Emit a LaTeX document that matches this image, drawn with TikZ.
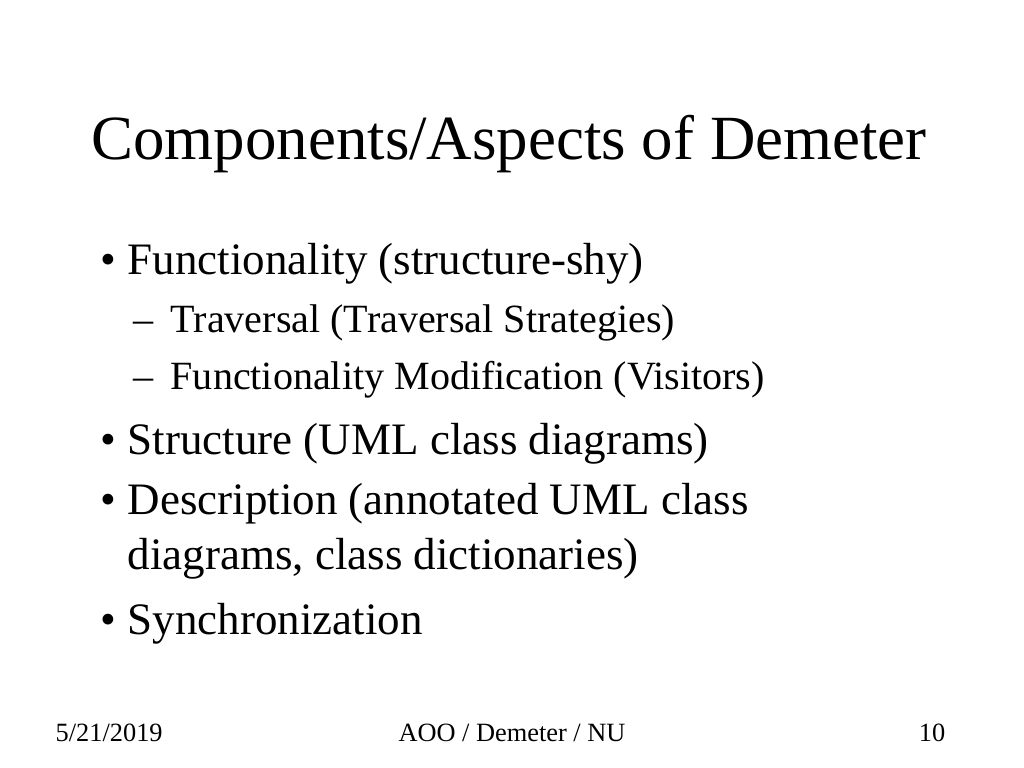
\documentclass[tikz,border=0pt]{standalone}
\usepackage{fontspec}
\setmainfont{Liberation Serif}
\usetikzlibrary{positioning}
\tikzset{
  bullettext/.style={anchor=base west, inner sep=0pt, font=\fontsize{12.8pt}{14pt}\selectfont},
  subtext/.style={anchor=base west, inner sep=0pt, font=\fontsize{11.4pt}{13pt}\selectfont},
  foottext/.style={inner sep=0pt, font=\fontsize{7.5pt}{8pt}\selectfont}
}
\begin{document}
\begin{tikzpicture}
\useasboundingbox (0,0) rectangle (10.24,7.68);
\node [anchor=base, inner sep=0pt, font=\fontsize{17.9pt}{20pt}\selectfont] (title) at (5.09,6.08) {Components/Aspects of Demeter};
% bullets
\node [bullettext] (d1) at (1.00,4.93) {\textbullet};
\node [bullettext] (b1) at (1.27,4.93) {Functionality (structure-shy)};
\node [subtext] (e1) at (1.33,4.35) {--};
\node [subtext] (s1) at (1.70,4.35) {Traversal (Traversal Strategies)};
\node [subtext] (e2) at (1.33,3.78) {--};
\node [subtext] (s2) at (1.70,3.78) {Functionality Modification (Visitors)};
\node [bullettext] (d2) at (1.00,3.13) {\textbullet};
\node [bullettext] (b2) at (1.27,3.13) {Structure (UML class diagrams)};
\node [bullettext] (d3) at (1.00,2.53) {\textbullet};
\node [bullettext] (b3) at (1.27,2.53) {Description (annotated UML class};
\node [bullettext] (b3b) at (1.27,1.98) {diagrams, class dictionaries)};
\node [bullettext] (d4) at (1.00,1.33) {\textbullet};
\node [bullettext] (b4) at (1.27,1.33) {Synchronization};
% footer
\node [foottext, anchor=base west] (date) at (0.55,0.26) {5/21/2019};
\node [foottext, anchor=base] (course) at (5.12,0.26) {AOO / Demeter / NU};
\node [foottext, anchor=base east] (page) at (9.46,0.26) {10};
\end{tikzpicture}
\end{document}
